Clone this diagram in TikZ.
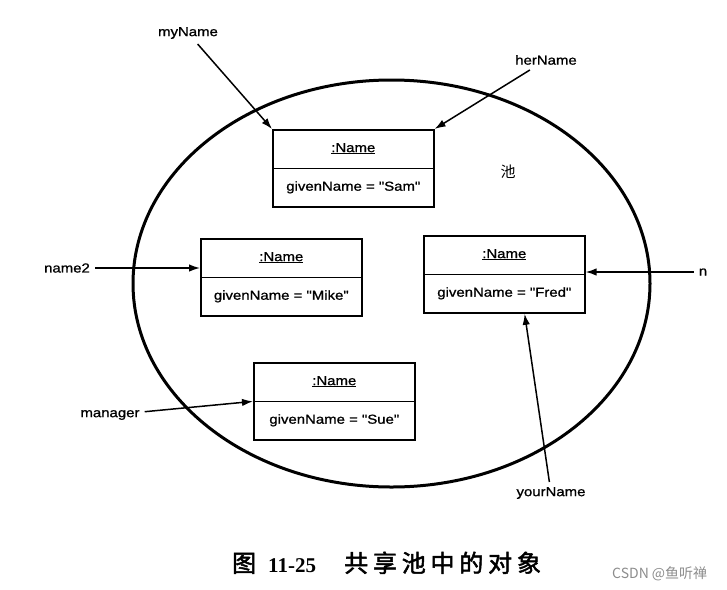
\documentclass[tikz,border=0pt]{standalone}
\usepackage{fontspec}
\setmainfont[FakeStretch=1.15, FakeBold=1, Ligatures=TeXOff]{Liberation Sans}
\newfontfamily\cjk{Noto Sans CJK SC}
\newfontfamily\cjkbold[FakeBold=2]{Noto Sans CJK SC}
\newfontfamily\cjkcap[LetterSpace=20, FakeBold=2]{Noto Sans CJK SC}
\newfontfamily\capnum{Liberation Serif}
\usetikzlibrary{arrows.meta,shapes.multipart,calc}

\begin{document}
\begin{tikzpicture}[x=1pt, y=-1pt, >={Latex[length=11pt,width=7.5pt]},
	every node/.style={font=\fontsize{13}{15}\selectfont},
	obj/.style={draw, line width=1.6pt, rectangle split, rectangle split parts=2, minimum width=161pt, inner ysep=11pt, anchor=north west},
	lbl/.style={inner sep=5pt},
	ref/.style={->, line width=1.5pt}]
	\useasboundingbox (0,0) rectangle (727,589);
	% the pool
	\draw[line width=3pt] (391.5,283.5) ellipse [x radius=258.5pt, y radius=203.5pt];
	\node (pool) at (508,172) {\cjk\fontsize{15}{17}\selectfont 池};
	% shared objects
	\foreach \id/\x/\y/\val in {sam/272/129/Sam, mike/200/238/Mike, fred/423/235/Fred, sue/253/362/Sue}
		\node[obj] (\id) at (\x,\y) {\strut\underline{:Name}\nodepart{second}\strut givenName = "\val"};
	% references
	\node[lbl] (myName) at (188,33) {myName};
	\node[lbl] (herName) at (546,60) {herName};
	\node[lbl] (name2) at (67,268) {name2};
	\node[lbl] (n) at (703,272) {n};
	\node[lbl] (manager) at (110,415) {manager};
	\node[lbl] (yourName) at (551,493) {yourName};
	\draw[ref] (myName) -- (sam.north west);
	\draw[ref] (herName) -- (sam.north east);
	\draw[ref] (name2) -- (name2 -| mike.west);
	\draw[ref] (n) -- (n -| fred.east);
	\draw[ref] (manager) -- (sue.text split west);
	\draw[ref] (yourName) -- ($(fred.south west)!0.625!(fred.south east)$);
	% caption
	\node[anchor=base west, inner sep=0pt] (figno) at (232,572) {\cjkbold\fontsize{24}{26}\selectfont 图};
	\node[anchor=base west, inner sep=0pt] (fignum) at (268,572) {\capnum\bfseries\fontsize{21}{24}\selectfont 11-25};
	\node[anchor=base west, inner sep=0pt] (figtitle) at (344,572) {\cjkcap\fontsize{24}{26}\selectfont 共享池中的对象};
	\node[anchor=base west, inner sep=0pt, text=black!45] (mark) at (612,578) {\cjk\fontsize{14}{16}\selectfont CSDN @鱼听禅};
\end{tikzpicture}
\end{document}
